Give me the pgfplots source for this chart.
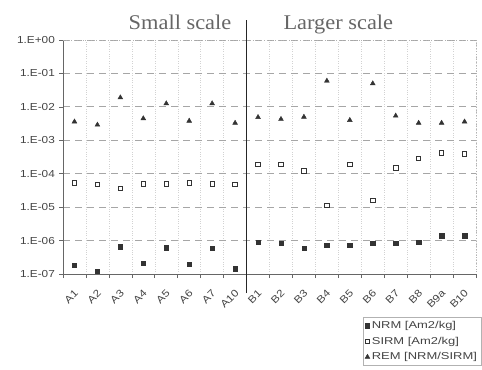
\documentclass[border=0pt]{standalone}
\usepackage{fontspec}
\setmainfont{Liberation Sans}
\newfontfamily\seriffont{Liberation Serif}
\usepackage{pgfplots}
\pgfplotsset{compat=1.18}
\definecolor{txt}{HTML}{444444}
\definecolor{mk}{HTML}{333333}
\newcommand{\tw}[1]{\scalebox{1.16}[1]{#1}}
\newcommand{\lw}[1]{\scalebox{1.3}[1]{#1}}
\begin{document}
\begin{tikzpicture}[x=1bp,y=1bp]
\path[use as bounding box] (0,0) rectangle (482,-369);
\begin{axis}[
  at={(63bp,-40bp)}, anchor=north west,
  scale only axis, width=413bp, height=234bp,
  ymode=log, ymin=1e-7, ymax=1,
  xmin=-0.5, xmax=17.5,
  axis lines*=left,
  axis line style={draw=gray!80!black, line width=0.9pt},
  xtick={0,...,17},
  xticklabels={\tw{A1},\tw{A2},\tw{A3},\tw{A4},\tw{A5},\tw{A6},\tw{A7},\tw{A10},\tw{B1},\tw{B2},\tw{B3},\tw{B4},\tw{B5},\tw{B6},\tw{B7},\tw{B8},\tw{B9a},\tw{B10}},
  major x tick style={draw=none},
  minor xtick={-0.5,0.5,...,17.5},
  minor tick length=4bp,
  minor x tick style={draw=gray!80!black, line width=0.6pt},
  xminorgrids, minor x grid style={gray!35, dotted},
  ytick={1e-7,1e-6,1e-5,1e-4,1e-3,1e-2,1e-1,1},
  yticklabels={\tw{1.E-07},\tw{1.E-06},\tw{1.E-05},\tw{1.E-04},\tw{1.E-03},\tw{1.E-02},\tw{1.E-01},\tw{1.E+00}},
  yminorticks=false,
  ymajorgrids, major y grid style={gray!70, dash pattern=on 7bp off 5bp, line width=0.8pt},
  major tick length=4bp,
  tick align=outside,
  major y tick style={draw=gray!80!black, line width=0.6pt},
  ticklabel style={font=\fontsize{10.2}{12}\selectfont, text=txt},
  xticklabel style={rotate=45, anchor=north east, inner sep=1pt, yshift=-6bp, xshift=-7bp},
  yticklabel style={inner sep=2pt, xshift=-2bp},
  clip=false,
  legend style={at={(0.726,-0.184)}, anchor=north west, draw=gray!60,
    font=\fontsize{10}{12}\selectfont, text=txt, row sep=3bp,
    inner xsep=2pt, inner ysep=2pt},
  legend cell align=left,
]
\addplot[only marks, mark=square*, mark size=2.2bp, mk] coordinates {
 (0,1.8e-7) (1,1.2e-7) (2,6.5e-7) (3,2.1e-7) (4,6.2e-7) (5,2.0e-7) (6,5.8e-7) (7,1.45e-7)
 (8,8.8e-7) (9,8.2e-7) (10,5.8e-7) (11,7.2e-7) (12,7.2e-7) (13,8.2e-7) (14,8.2e-7) (15,8.8e-7) (16,1.4e-6) (17,1.4e-6)};
\addlegendentry{\lw{NRM [Am2/kg]}}
\addplot[only marks, mark=square, mark size=2.2bp, mk, mark options={line width=0.8pt}] coordinates {
 (0,5.3e-5) (1,4.8e-5) (2,3.6e-5) (3,4.9e-5) (4,4.9e-5) (5,5.3e-5) (6,4.9e-5) (7,4.8e-5)
 (8,1.9e-4) (9,1.9e-4) (10,1.2e-4) (11,1.15e-5) (12,1.9e-4) (13,1.6e-5) (14,1.5e-4) (15,2.9e-4) (16,4.2e-4) (17,3.9e-4)};
\addlegendentry{\lw{SIRM [Am2/kg]}}
\addplot[only marks, mark=triangle*, mark size=2.8bp, mk] coordinates {
 (0,3.6e-3) (1,2.9e-3) (2,1.9e-2) (3,4.5e-3) (4,1.26e-2) (5,3.8e-3) (6,1.26e-2) (7,3.3e-3)
 (8,4.9e-3) (9,4.3e-3) (10,5.0e-3) (11,6.0e-2) (12,4.0e-3) (13,5.0e-2) (14,5.4e-3) (15,3.3e-3) (16,3.3e-3) (17,3.6e-3)};
\addlegendentry{\lw{REM [NRM/SIRM]}}
\draw[gray!60, dotted, line width=0.8pt] (rel axis cs:0,1) -- (rel axis cs:1,1) -- (rel axis cs:1,0);
\draw[gray!30!black, line width=1.6pt] ([yshift=-19bp]axis cs:7.5,1e-7) -- ([yshift=20bp]axis cs:7.5,1);
\node[font=\seriffont\fontsize{21}{24}\selectfont, text=gray!80!black, anchor=base] at ([yshift=11bp]axis cs:4.6,1) {\scalebox{1.07}[1]{Small scale}};
\node[font=\seriffont\fontsize{21}{24}\selectfont, text=gray!80!black, anchor=base] at ([yshift=11bp]axis cs:11.5,1) {\scalebox{1.07}[1]{Larger scale}};
\end{axis}
\end{tikzpicture}
\end{document}
